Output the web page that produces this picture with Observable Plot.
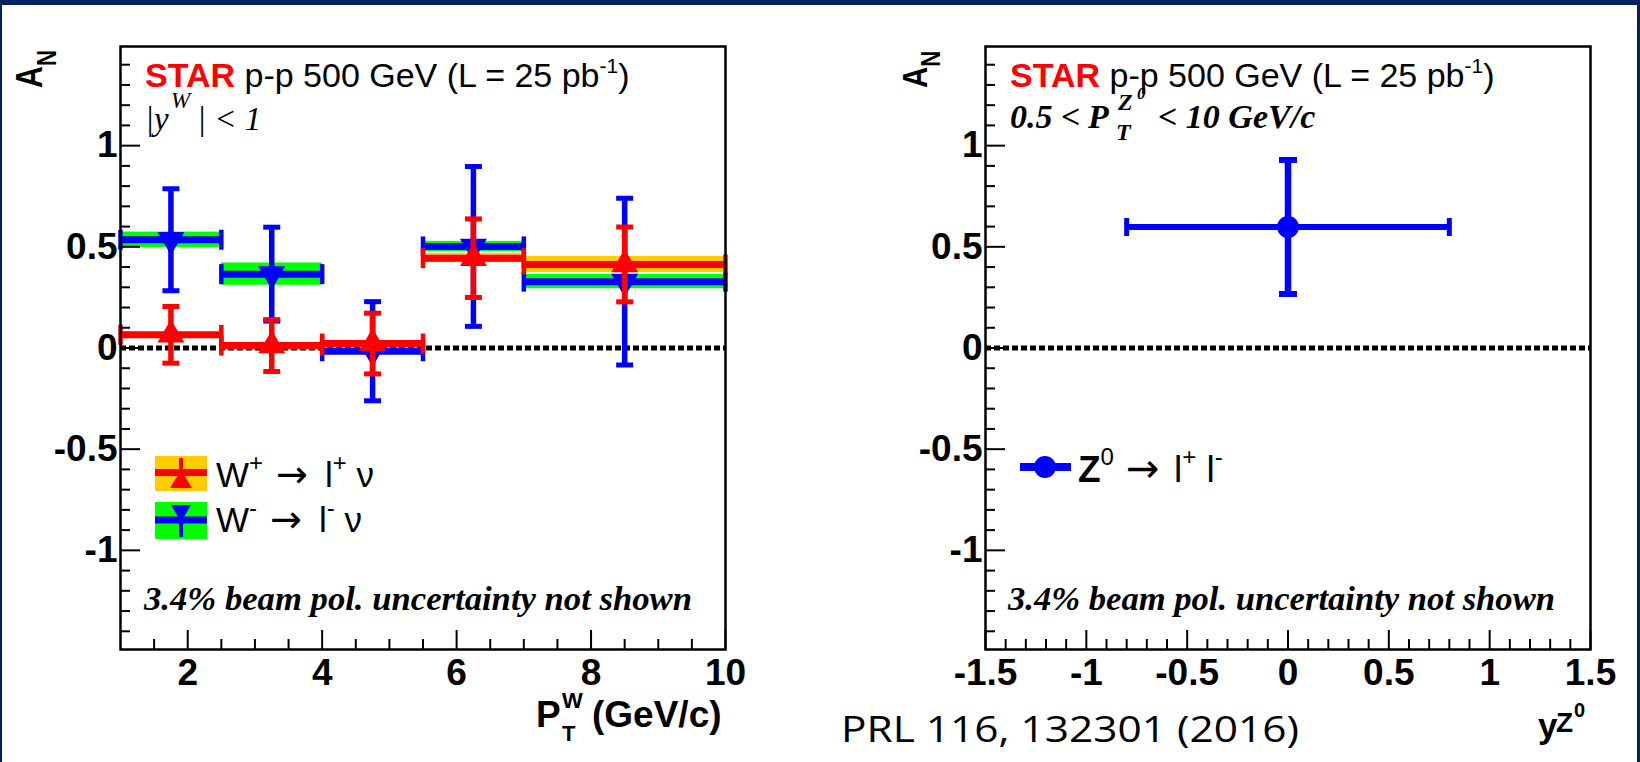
<!DOCTYPE html>
<html><head><meta charset="utf-8">
<script src="https://cdn.jsdelivr.net/npm/d3@7"></script>
<script src="https://cdn.jsdelivr.net/npm/@observablehq/plot@0.6"></script>
<style>
html,body{margin:0;padding:0;background:#fff;}
#wrap{position:relative;width:1640px;height:762px;overflow:hidden;background:#fff;}
#left,#right{position:absolute;top:0;width:820px;height:762px;}
#left{left:0} #right{left:820px}
#overlay{position:absolute;left:0;top:0;pointer-events:none}
#border{position:absolute;left:0;top:0;width:1640px;height:762px;box-sizing:border-box;border-top:5px solid #002060;border-left:2px solid #002060;border-right:3px solid #002060;pointer-events:none}
</style></head>
<body><div id="wrap"><div id="left"></div><div id="right"></div><svg id="overlay" width="1640" height="762"></svg><div id="border"></div></div>
<script>
// ---------- data ----------
const binLo     = [1, 2.5, 4, 5.5, 7];
const binHi     = [2.5, 4, 5.5, 7, 10];
const binCenter = [1.75, 3.25, 4.75, 6.25, 8.5];
const wPlusAN    = [0.065, 0.012, 0.022, 0.444, 0.413];
const wPlusStat  = [0.140, 0.128, 0.150, 0.194, 0.185];
const wPlusSys   = [0.012, 0.008, 0.014, 0.022, 0.040];
const wMinusAN   = [0.535, 0.365, -0.016, 0.502, 0.328];
const wMinusStat = [0.252, 0.232, 0.245, 0.395, 0.412];
const wMinusSys  = [0.038, 0.055, 0.010, 0.025, 0.035];
const zRap    = [0];
const zRapErr = [0.8];
const zAN     = [0.598];
const zStat   = [0.331];
// tick labels
const yMajor  = [-1, -0.5, 0, 0.5, 1];
const xMajorL = [2, 4, 6, 8, 10];
const xMajorR = [-1.5, -1, -0.5, 0, 0.5, 1, 1.5];

// minor tick positions
const r1 = v => Math.round(v * 100) / 100;
const yMinor  = d3.range(-14, 15).map(i => r1(i / 10)).filter(v => Math.abs(Math.round(v * 10)) % 5 !== 0);
const xMinorL = d3.range(3, 20).map(i => i / 2).filter(v => !xMajorL.includes(v));
const xMinorR = d3.range(-14, 15).map(i => r1(i / 10)).filter(v => Math.abs(Math.round(v * 10)) % 5 !== 0);

const RED = "#ff0000", BLUE = "#0000ff", GREEN = "#00ff00", ORANGE = "#ffcc00";
const SANS = "'Liberation Sans', Arial, Helvetica, sans-serif";
const SERIF = "'Liberation Serif', 'Times New Roman', serif";
const ARROWF = "'DejaVu Sans', sans-serif";

const wPlus  = binCenter.map((c, i) => ({c, lo: binLo[i], hi: binHi[i], v: wPlusAN[i],  s: wPlusStat[i],  sy: wPlusSys[i]}));
const wMinus = binCenter.map((c, i) => ({c, lo: binLo[i], hi: binHi[i], v: wMinusAN[i], s: wMinusStat[i], sy: wMinusSys[i]}));
const zData  = zRap.map((c, i) => ({c, lo: c - zRapErr[i], hi: c + zRapErr[i], v: zAN[i], s: zStat[i]}));

// line-shaped symbols for error-bar caps
const vbar = {draw(ctx, size) { const h = Math.sqrt(size / Math.PI); ctx.moveTo(0, -h); ctx.lineTo(0, h); }};
const hbar = {draw(ctx, size) { const h = Math.sqrt(size / Math.PI); ctx.moveTo(-h, 0); ctx.lineTo(h, 0); }};

function errorBars(data, color, o = {}) {
  const hw = o.hw ?? 7, vw = o.vw ?? 5.5, cw = o.cw ?? 5, ew = o.ew ?? 4.5, cr = o.cr ?? 8.5, er = o.er ?? 10;
  return [
    Plot.ruleY(data, {y: "v", x1: "lo", x2: "hi", stroke: color, strokeWidth: hw}),
    Plot.ruleX(data, {x: "c", y1: d => d.v - d.s, y2: d => d.v + d.s, stroke: color, strokeWidth: vw}),
    Plot.dot(data, {x: "c", y: d => d.v + d.s, symbol: hbar, r: cr, fill: "none", stroke: color, strokeWidth: cw}),
    Plot.dot(data, {x: "c", y: d => d.v - d.s, symbol: hbar, r: cr, fill: "none", stroke: color, strokeWidth: cw}),
    Plot.dot(data, {x: "lo", y: "v", symbol: vbar, r: er, fill: "none", stroke: color, strokeWidth: ew}),
    Plot.dot(data, {x: "hi", y: "v", symbol: vbar, r: er, fill: "none", stroke: color, strokeWidth: ew})
  ];
}

const fmt = d => String(d);
const W = 820, H = 762, MT = 46, MB = 113;
const PH = H - MT - MB;

function frameMarks(pw, xMinor, xMajor) {
  return [
    Plot.tickY(yMinor, {y: d => d, insetRight: pw - 10, stroke: "black", strokeWidth: 2}),
    Plot.tickY(yMajor, {y: d => d, insetRight: pw - 20, stroke: "black", strokeWidth: 2}),
    Plot.tickX(xMinor, {x: d => d, insetTop: PH - 10, stroke: "black", strokeWidth: 2}),
    Plot.tickX(xMajor, {x: d => d, insetTop: PH - 19, stroke: "black", strokeWidth: 2}),
    Plot.axisY({ticks: yMajor, tickSize: 0, tickPadding: 3, tickFormat: fmt, fontSize: 37, fontWeight: "bold", label: null}),
    Plot.axisX({ticks: xMajor, tickSize: 0, tickPadding: 9, tickFormat: fmt, fontSize: 37, fontWeight: "bold", label: null}),
    Plot.frame({stroke: "black", strokeWidth: 2.5})
  ];
}
const zeroLine = () => Plot.ruleY([0], {stroke: "black", strokeWidth: 5, strokeDasharray: "6,3"});

// ---------- left panel ----------
const mlL = 120, mrL = 95;
const leftPlot = Plot.plot({
  width: W, height: H, marginLeft: mlL, marginRight: mrL, marginTop: MT, marginBottom: MB,
  x: {domain: [1, 10], label: null},
  y: {domain: [-1.49, 1.49], label: null},
  style: {fontFamily: SANS, color: "black", background: "transparent", overflow: "visible"},
  marks: [
    zeroLine(),
    Plot.rect(wMinus, {x1: "lo", x2: "hi", y1: d => d.v - d.sy, y2: d => d.v + d.sy, fill: GREEN}),
    ...errorBars(wMinus, BLUE),
    Plot.dot(wMinus, {x: "c", y: "v", symbol: "triangle", rotate: 180, r: 10, fill: BLUE, stroke: "none"}),
    Plot.rect(wPlus, {x1: "lo", x2: "hi", y1: d => d.v - d.sy, y2: d => d.v + d.sy, fill: ORANGE}),
    ...errorBars(wPlus, RED),
    Plot.dot(wPlus, {x: "c", y: "v", symbol: "triangle", r: 10, fill: RED, stroke: "none"}),
    ...frameMarks(W - mlL - mrL, xMinorL, xMajorL)
  ]
});
document.getElementById("left").append(leftPlot);

// ---------- right panel ----------
const mlR = 165, mrR = 50;
const rightPlot = Plot.plot({
  width: W, height: H, marginLeft: mlR, marginRight: mrR, marginTop: MT, marginBottom: MB,
  x: {domain: [-1.5, 1.5], label: null},
  y: {domain: [-1.49, 1.49], label: null},
  style: {fontFamily: SANS, color: "black", background: "transparent", overflow: "visible"},
  marks: [
    zeroLine(),
    ...errorBars(zData, BLUE, {hw: 6, vw: 6.5, cw: 6, ew: 5, cr: 9, er: 9}),
    Plot.dot(zData, {x: "c", y: "v", r: 11, fill: BLUE, stroke: "none"}),
    ...frameMarks(W - mlR - mrR, xMinorR, xMajorR)
  ]
});
document.getElementById("right").append(rightPlot);

// ---------- annotations, legends, axis titles ----------
const ov = document.getElementById("overlay");
ov.innerHTML = `
<g font-family="${SANS}" fill="black">
  <text x="145" y="87" font-size="34"><tspan fill="${RED}" font-weight="bold">STAR</tspan><tspan> p-p 500 GeV (L = 25 pb</tspan><tspan font-size="21" dy="-14">-1</tspan><tspan dy="14">)</tspan></text>
  <text x="1010" y="87" font-size="34"><tspan fill="${RED}" font-weight="bold">STAR</tspan><tspan> p-p 500 GeV (L = 25 pb</tspan><tspan font-size="21" dy="-14">-1</tspan><tspan dy="14">)</tspan></text>
</g>
<g font-family="${SERIF}" font-style="italic" fill="black">
  <text y="130" font-size="33"><tspan x="145">|y</tspan><tspan x="171" y="108" font-size="23">W</tspan><tspan x="197" y="130">| &lt; 1</tspan></text>
  <text font-size="34" font-weight="bold"><tspan x="1010" y="128">0.5 &lt;</tspan><tspan x="1088" y="128">P</tspan><tspan x="1118" y="110" font-size="24">Z</tspan><tspan x="1137" y="99" font-size="17">0</tspan><tspan x="1116" y="140" font-size="24">T</tspan><tspan x="1158" y="128">&lt; 10 GeV/c</tspan></text>
  <text x="144" y="610" font-size="34" font-weight="bold" textLength="548" lengthAdjust="spacingAndGlyphs">3.4% beam pol. uncertainty not shown</text>
  <text x="1008" y="610" font-size="34" font-weight="bold" textLength="547" lengthAdjust="spacingAndGlyphs">3.4% beam pol. uncertainty not shown</text>
</g>
<g>
  <rect x="155" y="456" width="52" height="35" fill="${ORANGE}"/>
  <line x1="155" x2="207" y1="472.5" y2="472.5" stroke="${RED}" stroke-width="7"/>
  <line x1="181" x2="181" y1="458" y2="488" stroke="${RED}" stroke-width="4"/>
  <polygon points="181,470 170,488 192,488" fill="${RED}"/>
  <rect x="155" y="502" width="52" height="37" fill="${GREEN}"/>
  <line x1="155" x2="207" y1="520" y2="520" stroke="${BLUE}" stroke-width="7"/>
  <line x1="181" x2="181" y1="505" y2="537" stroke="${BLUE}" stroke-width="4"/>
  <polygon points="171,505 191,505 181,522" fill="${BLUE}"/>
  <line x1="1020" x2="1071" y1="467" y2="467" stroke="${BLUE}" stroke-width="8"/>
  <circle cx="1045" cy="467" r="11" fill="${BLUE}"/>
</g>
<g font-family="${SANS}" fill="black">
  <text y="487" font-size="35"><tspan x="216">W</tspan><tspan font-size="24" dy="-16">+</tspan><tspan x="276" dy="16" font-family="${ARROWF}" font-size="38">→</tspan><tspan x="325">l</tspan><tspan font-size="24" dy="-16">+</tspan><tspan dy="16"> ν</tspan></text>
  <text y="532" font-size="35"><tspan x="216">W</tspan><tspan font-size="24" dy="-16">-</tspan><tspan x="270" dy="16" font-family="${ARROWF}" font-size="38">→</tspan><tspan x="319">l</tspan><tspan font-size="24" dy="-16">-</tspan><tspan dy="16"> ν</tspan></text>
  <text y="482" font-size="37"><tspan x="1078" font-weight="bold">Z</tspan><tspan font-size="24" dy="-17">0</tspan><tspan x="1126" dy="17" font-family="${ARROWF}" font-size="40">→</tspan><tspan x="1174">l</tspan><tspan font-size="24" dy="-17">+</tspan><tspan dy="17"> l</tspan><tspan font-size="24" dy="-17">-</tspan></text>
</g>
<g font-family="${SANS}" font-weight="bold" fill="black">
  <text><tspan x="536" y="727" font-size="37">P</tspan><tspan x="562" y="708" font-size="22">W</tspan><tspan x="562" y="741" font-size="22">T</tspan><tspan x="592" y="727" font-size="37">(GeV/c)</tspan></text>
  <text><tspan x="1538" y="738" font-size="35">y</tspan><tspan x="1556" y="732" font-size="28">Z</tspan><tspan x="1574" y="717" font-size="20">0</tspan></text>
  <g transform="translate(42,88) rotate(-90) scale(0.82,1)"><text font-size="37">A<tspan font-size="27" dy="14">N</tspan></text></g>
  <g transform="translate(927,88) rotate(-90) scale(0.82,1)"><text font-size="36">A<tspan font-size="27" dy="13">N</tspan></text></g>
</g>
<text x="841" y="742" font-family="'Open Sans', 'Noto Sans', sans-serif" font-size="37" fill="black" textLength="458" lengthAdjust="spacingAndGlyphs">PRL 116, 132301 (2016)</text>
`;
</script>
</body></html>
